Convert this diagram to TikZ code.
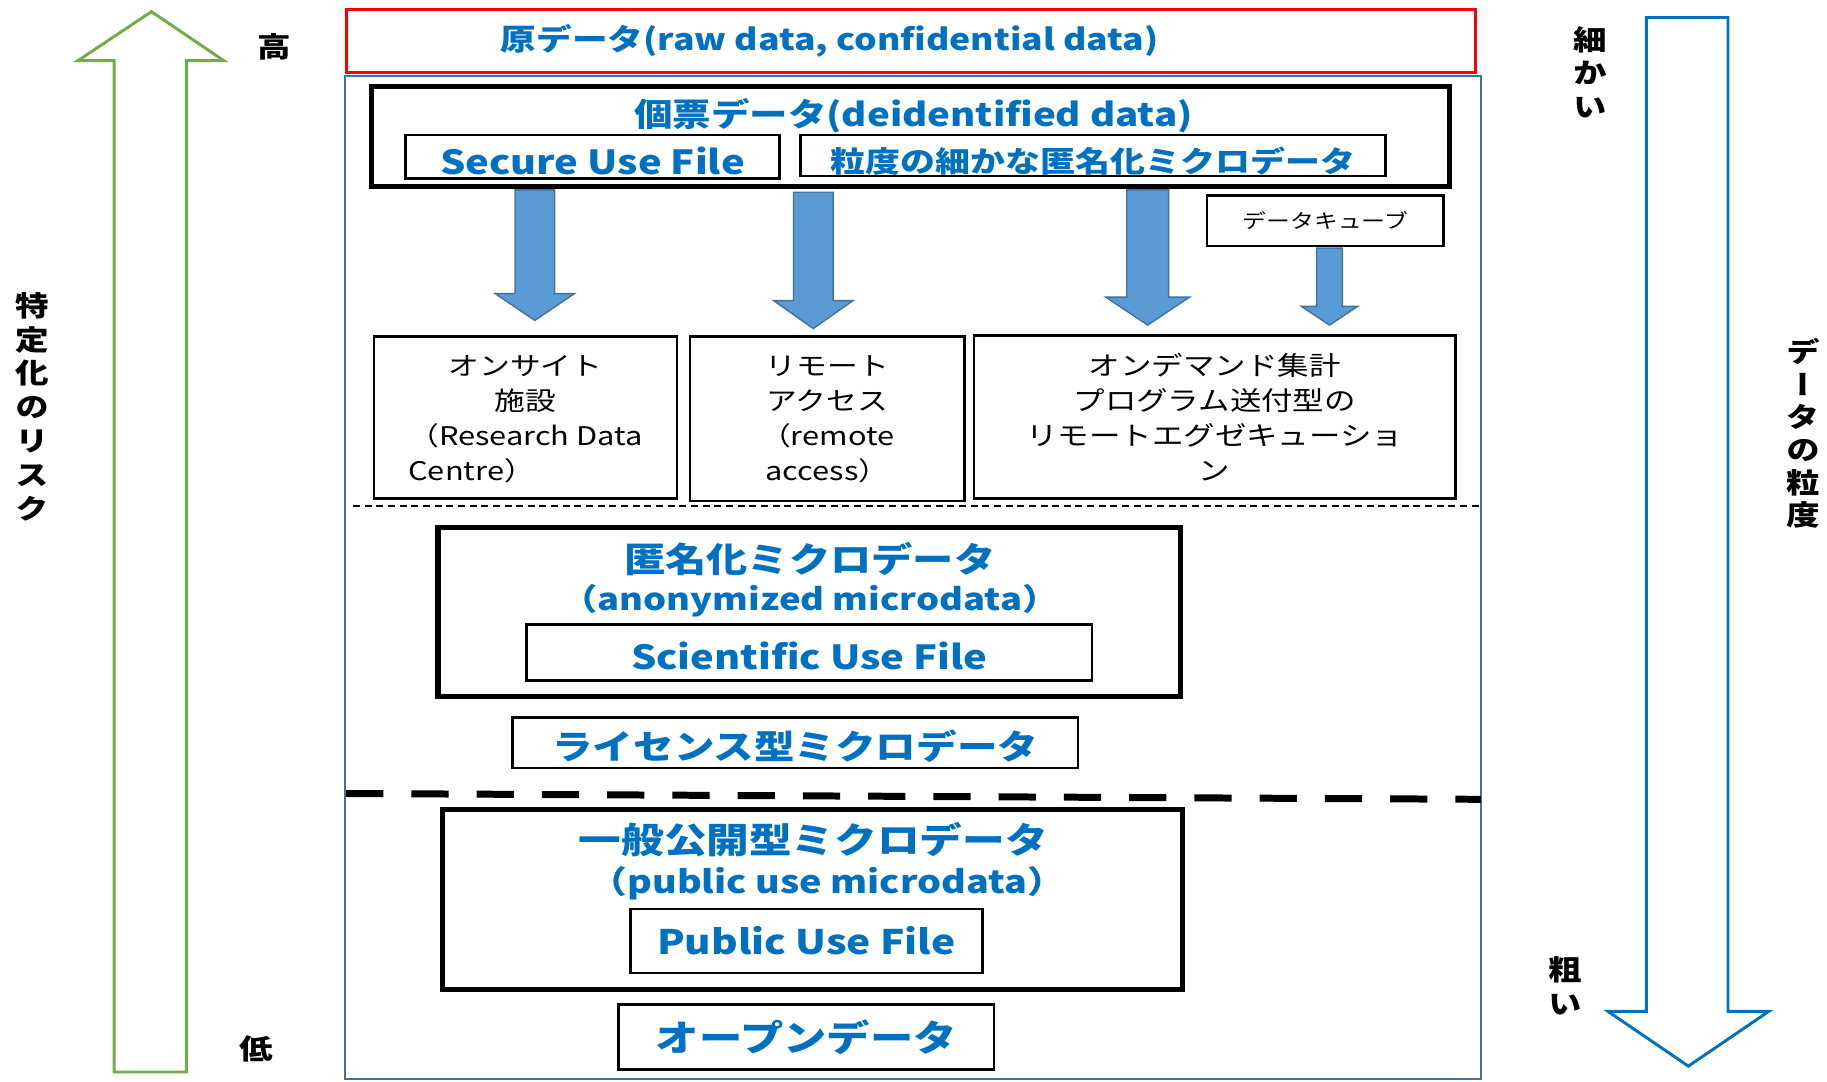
\documentclass[tikz,border=0pt]{standalone}
\usepackage{fontspec}
\setmainfont[FakeStretch=1.2]{Noto Sans CJK JP}
\newfontfamily\vjp[FakeStretch=1.2,RawFeature=+vert]{Noto Sans CJK JP}
\definecolor{jblue}{HTML}{0070C0}
\definecolor{frameblue}{HTML}{41719C}
\definecolor{arrowfill}{HTML}{5B9BD5}
\definecolor{riskgreen}{HTML}{70AD47}
\newcommand\dropby[2]{\raisebox{-#1}[\height][\depth]{#2}}
\tikzset{
  box/.style={draw, line width=2.2pt, inner sep=0pt, align=center},
  heavy/.style={draw, line width=4.5pt, inner sep=0pt},
  ttl/.style={text=jblue, font=\bfseries\fontsize{#1}{30}\selectfont},
  ttl/.default=25,
  plain/.style={font=\fontsize{#1}{30}\selectfont},
  plain/.default=22,
  side/.style={font=\bfseries\fontsize{24}{30}\selectfont},
  vside/.style={font=\vjp\bfseries\fontsize{24}{29}\selectfont, align=center},
  blockarrow/.style={fill=arrowfill, draw=frameblue, line width=1.2pt}
}
\begin{document}
\begin{tikzpicture}[x=1pt,y=-1pt]
\useasboundingbox (0,0) rectangle (1568,928);

% risk and granularity arrows
\draw[riskgreen, line width=2.5pt] (130,10) -- (192,52) -- (160,52) -- (160,920) -- (98,920) -- (98,52) -- (67,52) -- cycle;
\draw[jblue, line width=2.5pt] (1413,15) -- (1483,15) -- (1483,868) -- (1518,868) -- (1449,915) -- (1380,868) -- (1413,868) -- cycle;
\node[side] (high) at (235,40) {高};
\node[side] (low) at (220,900) {低};
\node[vside] (risk) at (28,349) {特\\定\\化\\の\\リ\\ス\\ク};
\node[vside, font=\vjp\bfseries\fontsize{24}{28}\selectfont] (grain) at (1548,372) {デ\\ー\\タ\\の\\粒\\度};
\node[vside] (fine) at (1365,62) {細\\か\\い};
\node[vside] (coarse) at (1343,846) {粗\\い};

% frames
\draw[frameblue, line width=2pt] (296,65) rectangle (1271,926);
\node[draw=red, line width=2.5pt, minimum width=969pt, minimum height=54pt] (raw) at (781.5,35) {};
\node[ttl=25.5] (rawlbl) at (712,35) {原データ(raw data, confidential data)};

\node[heavy, minimum width=925pt, minimum height=86pt] (kohyo) at (781.5,117) {};
\node[ttl=27.5] (kohyolbl) at (784,99) {個票データ(deidentified data)};
\node[box, ttl=28.5, minimum width=321pt, minimum height=37pt] (secure) at (508.5,134.5) {\dropby{4pt}{Secure Use File}};
\node[box, ttl, minimum width=502pt, minimum height=35pt] (ryudo) at (938,133.5) {\dropby{5pt}{粒度の細かな匿名化ミクロデータ}};
\node[box, plain=17, minimum width=203pt, minimum height=43pt] (cube) at (1137.5,189.5) {データキューブ};

\foreach \x/\t/\h/\e/\s/\w in {459/163/252/275/17/34, 698/165/258/282/17/34, 985/163/255/279/18/36, 1141/213/263/279/11/24}
  \draw[blockarrow] (\x-\s,\t) -- (\x+\s,\t) -- (\x+\s,\h) -- (\x+\w,\h) -- (\x,\e) -- (\x-\w,\h) -- (\x-\s,\h) -- cycle;

\node[box, plain, minimum width=260pt, minimum height=139pt] (onsite) at (451,358.5)
  {\dropby{3pt}{\begin{tabular}[t]{@{}c@{}}オンサイト\\施設\\\begin{tabular}[t]{@{}l@{}}（Research Data\\Centre）\end{tabular}\end{tabular}}};
\node[box, plain, minimum width=236pt, minimum height=141pt] (remote) at (710,359.5)
  {リモート\\アクセス\\（remote\\access）};
\node[box, plain=22.5, minimum width=413pt, minimum height=140pt] (ondemand) at (1042.5,358)
  {オンデマンド集計\\プログラム送付型の\\リモートエグゼキューショ\\ン};
\draw[line width=2pt, dash pattern=on 6pt off 4pt] (303,434) -- (1270,434);

\node[heavy, minimum width=637pt, minimum height=145pt] (tokumei) at (694.5,525.5) {};
\node[ttl=29.5] (tokumeilbl) at (695,480) {匿名化ミクロデータ};
\node[ttl=26] (tokumeisub) at (695,516) {（anonymized microdata）};
\node[box, ttl=28.5, minimum width=485pt, minimum height=48pt] (sci) at (694.5,560) {\dropby{3pt}{Scientific Use File}};
\node[box, ttl=29, minimum width=485pt, minimum height=43pt] (license) at (682.5,637.5) {\dropby{3pt}{ライセンス型ミクロデータ}};

\draw[line width=6pt, dash pattern=on 32pt off 24pt] (297,681) -- (1271,686);

\node[heavy, minimum width=635pt, minimum height=154pt] (ippan) at (697.5,772) {};
\node[ttl=30.5] (ippanlbl) at (698,721) {一般公開型ミクロデータ};
\node[ttl=27] (ippansub) at (710,758) {（public use microdata）};
\node[box, ttl=29, minimum width=302pt, minimum height=55pt] (pub) at (692,807.5) {Public Use File};
\node[box, ttl=31, minimum width=322pt, minimum height=56pt] (open) at (692,890) {オープンデータ};
\end{tikzpicture}
\end{document}
